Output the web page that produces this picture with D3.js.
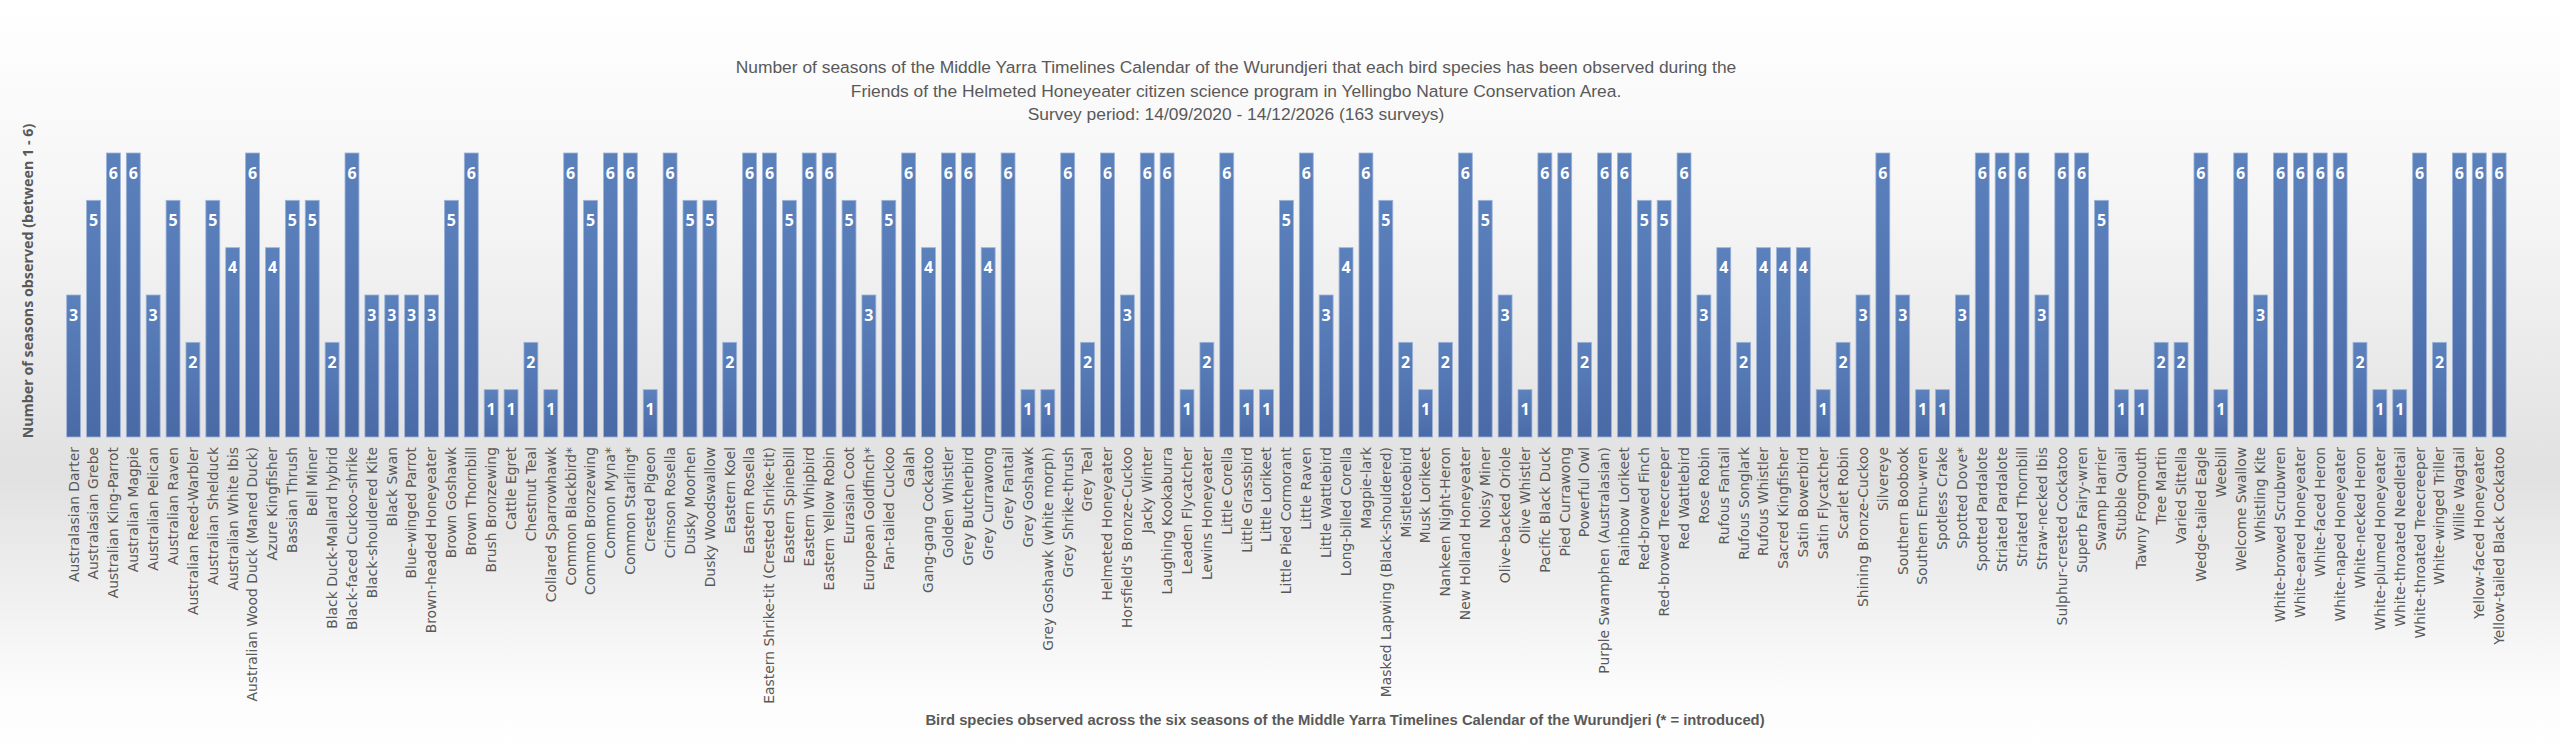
<!DOCTYPE html>
<html>
<head>
<meta charset="utf-8">
<script src="https://cdn.jsdelivr.net/npm/d3@7"></script>
<style>
  html, body { margin: 0; padding: 0; background: #fff; }
  svg { display: block; }
</style>
</head>
<body>
<div id="chart"></div>
<script>
// species names, in the order they appear along the x axis
const species = [
  "Australasian Darter", "Australasian Grebe", "Australian King-Parrot", "Australian Magpie",
  "Australian Pelican", "Australian Raven", "Australian Reed-Warbler", "Australian Shelduck",
  "Australian White Ibis", "Australian Wood Duck (Maned Duck)", "Azure Kingfisher", "Bassian Thrush",
  "Bell Miner", "Black Duck-Mallard hybrid", "Black-faced Cuckoo-shrike", "Black-shouldered Kite",
  "Black Swan", "Blue-winged Parrot", "Brown-headed Honeyeater", "Brown Goshawk",
  "Brown Thornbill", "Brush Bronzewing", "Cattle Egret", "Chestnut Teal",
  "Collared Sparrowhawk", "Common Blackbird*", "Common Bronzewing", "Common Myna*",
  "Common Starling*", "Crested Pigeon", "Crimson Rosella", "Dusky Moorhen",
  "Dusky Woodswallow", "Eastern Koel", "Eastern Rosella", "Eastern Shrike-tit (Crested Shrike-tit)",
  "Eastern Spinebill", "Eastern Whipbird", "Eastern Yellow Robin", "Eurasian Coot",
  "European Goldfinch*", "Fan-tailed Cuckoo", "Galah", "Gang-gang Cockatoo",
  "Golden Whistler", "Grey Butcherbird", "Grey Currawong", "Grey Fantail",
  "Grey Goshawk", "Grey Goshawk (white morph)", "Grey Shrike-thrush", "Grey Teal",
  "Helmeted Honeyeater", "Horsfield's Bronze-Cuckoo", "Jacky Winter", "Laughing Kookaburra",
  "Leaden Flycatcher", "Lewins Honeyeater", "Little Corella", "Little Grassbird",
  "Little Lorikeet", "Little Pied Cormorant", "Little Raven", "Little Wattlebird",
  "Long-billed Corella", "Magpie-lark", "Masked Lapwing (Black-shouldered)", "Mistletoebird",
  "Musk Lorikeet", "Nankeen Night-Heron", "New Holland Honeyeater", "Noisy Miner",
  "Olive-backed Oriole", "Olive Whistler", "Pacific Black Duck", "Pied Currawong",
  "Powerful Owl", "Purple Swamphen (Australasian)", "Rainbow Lorikeet", "Red-browed Finch",
  "Red-browed Treecreeper", "Red Wattlebird", "Rose Robin", "Rufous Fantail",
  "Rufous Songlark", "Rufous Whistler", "Sacred Kingfisher", "Satin Bowerbird",
  "Satin Flycatcher", "Scarlet Robin", "Shining Bronze-Cuckoo", "Silvereye",
  "Southern Boobook", "Southern Emu-wren", "Spotless Crake", "Spotted Dove*",
  "Spotted Pardalote", "Striated Pardalote", "Striated Thornbill", "Straw-necked Ibis",
  "Sulphur-crested Cockatoo", "Superb Fairy-wren", "Swamp Harrier", "Stubble Quail",
  "Tawny Frogmouth", "Tree Martin", "Varied Sittella", "Wedge-tailed Eagle",
  "Weebill", "Welcome Swallow", "Whistling Kite", "White-browed Scrubwren",
  "White-eared Honeyeater", "White-faced Heron", "White-naped Honeyeater", "White-necked Heron",
  "White-plumed Honeyeater", "White-throated Needletail", "White-throated Treecreeper", "White-winged Triller",
  "Willie Wagtail", "Yellow-faced Honeyeater", "Yellow-tailed Black Cockatoo"
];

// number of seasons each species was seen in (1 - 6)
const seasons = [
  3, 5, 6, 6, 3, 5, 2, 5, 4, 6, 4, 5,
  5, 2, 6, 3, 3, 3, 3, 5, 6, 1, 1, 2,
  1, 6, 5, 6, 6, 1, 6, 5, 5, 2, 6, 6,
  5, 6, 6, 5, 3, 5, 6, 4, 6, 6, 4, 6,
  1, 1, 6, 2, 6, 3, 6, 6, 1, 2, 6, 1,
  1, 5, 6, 3, 4, 6, 5, 2, 1, 2, 6, 5,
  3, 1, 6, 6, 2, 6, 6, 5, 5, 6, 3, 4,
  2, 4, 4, 4, 1, 2, 3, 6, 3, 1, 1, 3,
  6, 6, 6, 3, 6, 6, 5, 1, 1, 2, 2, 6,
  1, 6, 3, 6, 6, 6, 6, 2, 1, 1, 6, 2,
  6, 6, 6
];

const titleLines = [
  "Number of seasons of the Middle Yarra Timelines Calendar of the Wurundjeri that each bird species has been observed during the",
  "Friends of the Helmeted Honeyeater citizen science program in Yellingbo Nature Conservation Area.",
  "Survey period: 14/09/2020 - 14/12/2026 (163 surveys)"
];
const yTitle = "Number of seasons observed (between 1 - 6)";
const xTitle = "Bird species observed across the six seasons of the Middle Yarra Timelines Calendar of the Wurundjeri (* = introduced)";

const width = 2560, height = 753;
const textGrey = "#595959";

const svg = d3.select("#chart").append("svg")
    .attr("width", width)
    .attr("height", height);

const defs = svg.append("defs");

// chart area background: white -> light grey -> white
const bg = defs.append("linearGradient")
    .attr("id", "bg-grad")
    .attr("x1", 0).attr("y1", 0).attr("x2", 0).attr("y2", 1);
bg.append("stop").attr("offset", "0%").attr("stop-color", "#ffffff");
bg.append("stop").attr("offset", "30%").attr("stop-color", "#f4f4f4");
bg.append("stop").attr("offset", "63%").attr("stop-color", "#e1e1e1");
bg.append("stop").attr("offset", "92%").attr("stop-color", "#fcfcfc");
bg.append("stop").attr("offset", "100%").attr("stop-color", "#ffffff");

const barGrad = defs.append("linearGradient")
    .attr("id", "bar-grad")
    .attr("x1", 0).attr("y1", 0).attr("x2", 0).attr("y2", 1);
barGrad.append("stop").attr("offset", "0%").attr("stop-color", "#5b81bd");
barGrad.append("stop").attr("offset", "100%").attr("stop-color", "#4a6aa6");

svg.append("rect")
    .attr("width", width)
    .attr("height", height)
    .attr("fill", "url(#bg-grad)");

// scales
const x = d3.scaleBand()
    .domain(species)
    .range([63.7, 2509.1])
    .paddingInner(0.3)
    .paddingOuter(0.15);

const y = d3.scaleLinear()
    .domain([0, 6])
    .range([437, 153]);

// bars
const bars = svg.append("g").attr("class", "bars");
bars.selectAll("rect")
    .data(species)
    .enter().append("rect")
        .attr("x", (d) => x(d))
        .attr("y", (d, i) => y(seasons[i]))
        .attr("width", x.bandwidth())
        .attr("height", (d, i) => y(0) - y(seasons[i]))
        .attr("fill", "url(#bar-grad)")
        .attr("stroke", "#9db3d9")
        .attr("stroke-width", 0.8);

// value labels inside the top of each bar
bars.selectAll("text")
    .data(species)
    .enter().append("text")
        .attr("x", (d) => x(d) + x.bandwidth() / 2)
        .attr("y", (d, i) => y(seasons[i]) + 20)
        .attr("dy", "0.36em")
        .attr("text-anchor", "middle")
        .attr("font-family", "'Open Sans', sans-serif")
        .attr("font-weight", "bold")
        .attr("font-size", "16px")
        .attr("fill", "#ffffff")
        .text((d, i) => seasons[i]);

// x axis (labels only, no line / ticks)
const xAxis = d3.axisBottom(x).tickSize(0).tickPadding(0);
const xg = svg.append("g")
    .attr("transform", "translate(0," + y(0) + ")")
    .call(xAxis);
xg.select(".domain").remove();
xg.selectAll(".tick text")
    .attr("font-family", "'DejaVu Sans', sans-serif")
    .attr("font-size", "13.9px")
    .attr("fill", textGrey)
    .attr("text-anchor", "end")
    .attr("transform", "translate(0,10) rotate(-90)")
    .attr("x", 0)
    .attr("y", 0)
    .attr("dy", "0.35em");

// titles
const title = svg.append("g")
    .attr("font-family", "'Liberation Sans Narrow', 'Liberation Sans', sans-serif")
    .attr("font-size", "17.4px")
    .attr("fill", textGrey)
    .attr("text-anchor", "middle");
const titleY = [67, 91, 114];
titleLines.forEach((line, i) => {
    title.append("text")
        .attr("x", 1236)
        .attr("y", titleY[i])
        .attr("dy", "0.35em")
        .text(line);
});

svg.append("text")
    .attr("transform", "translate(28,281) rotate(-90)")
    .attr("dy", "0.35em")
    .attr("text-anchor", "middle")
    .attr("font-family", "'Open Sans', sans-serif")
    .attr("font-weight", "bold")
    .attr("font-size", "14.3px")
    .attr("fill", textGrey)
    .text(yTitle);

svg.append("text")
    .attr("x", 1345)
    .attr("y", 720)
    .attr("dy", "0.35em")
    .attr("text-anchor", "middle")
    .attr("font-family", "'Liberation Sans Narrow', 'Liberation Sans', sans-serif")
    .attr("font-weight", "bold")
    .attr("font-size", "14.8px")
    .attr("fill", textGrey)
    .text(xTitle);
</script>
</body>
</html>
